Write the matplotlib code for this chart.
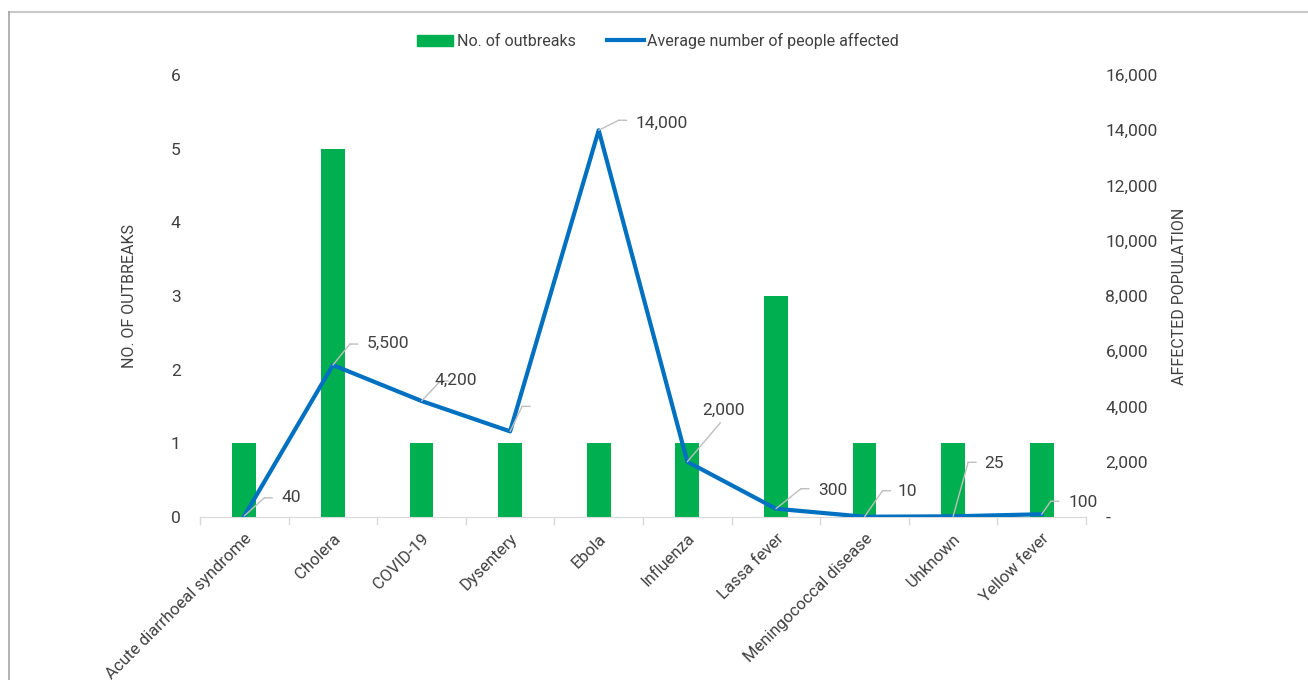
import matplotlib
matplotlib.use("Agg")
import matplotlib.pyplot as plt
from matplotlib.lines import Line2D
from matplotlib.patches import Patch
from matplotlib.transforms import offset_copy
import numpy as np

plt.rcParams['font.family'] = ['Roboto', 'DejaVu Sans']

categories = ["Acute diarrhoeal syndrome", "Cholera", "COVID-19", "Dysentery", "Ebola",
              "Influenza", "Lassa fever", "Meningococcal disease", "Unknown", "Yellow fever"]
outbreaks = [1, 5, 1, 1, 1, 1, 3, 1, 1, 1]
affected = [40, 5500, 4200, 3100, 14000, 2000, 300, 10, 25, 100]
point_labels = ["40", "5,500", "4,200", "", "14,000", "2,000", "300", "10", "25", "100"]
left_ticks = [0, 1, 2, 3, 4, 5, 6]
right_ticks = [0, 2000, 4000, 6000, 8000, 10000, 12000, 14000, 16000]

# leader styling (pixels): elbow dx, elbow dy, horizontal length, text dx, text dy
leader = [(20, 18, 8, 37, 18), (17, 21, 8, 34, 22), (19, 20, 8, 13, 21), (12, 25, 8, 30, 25),
          (20, 10, 8, 37, 7), (33, 39, 0, 15, 51), (25, 20, 8, 42, 18), (18, 26, 8, 33, 25),
          (15, 54, 8, 31, 53), (9, 13, 8, 27, 12)]

GREEN = "#00B050"
BLUE = "#0070C0"
GRID = "#d9d9d9"
LEAD = "#bfbfbf"
TXT = "#404040"

fig = plt.figure(figsize=(13.08, 6.8), dpi=100)
ax = fig.add_axes([0.1529, 0.2397, 0.6774, 0.65])
ax2 = ax.twinx()

x = np.arange(len(categories))
ax.bar(x, outbreaks, width=0.27, color=GREEN, zorder=2)
ax.set_ylim(0, 6)
ax.set_xlim(-0.5, len(categories) - 0.5)
ax.set_yticks(left_ticks)
ax.set_yticklabels([str(t) for t in left_ticks])
ax.set_xticks(x)
ax.set_xticklabels(categories, rotation=45, ha='right', rotation_mode='anchor')
ax.set_xticks(np.arange(-0.5, len(categories)), minor=True)
ax.tick_params(axis='x', which='major', length=0, pad=10, labelsize=12, colors=TXT)
ax.tick_params(axis='x', which='minor', length=6, color=GRID, width=1)
ax.tick_params(axis='y', length=0, pad=14, labelsize=12.5, colors=TXT)
for s in ['top', 'right', 'left']:
    ax.spines[s].set_visible(False)
ax.spines['bottom'].set_color(GRID)
ax.set_ylabel("NO. OF OUTBREAKS", fontsize=11.5, color=TXT, labelpad=24)

ax2.plot(x, affected, color=BLUE, lw=3, solid_joinstyle='round', zorder=3)
ax2.set_ylim(0, 16000)
ax2.set_yticks(right_ticks)
ax2.set_yticklabels(["-" if t == 0 else f"{t:,}" for t in right_ticks])
ax2.tick_params(axis='y', length=0, pad=14, labelsize=12.5, colors=TXT)
for s in ['top', 'right', 'left', 'bottom']:
    ax2.spines[s].set_visible(False)
ax2.set_ylabel("AFFECTED POPULATION", fontsize=11.5, color=TXT, labelpad=10)

for i, (v, lab) in enumerate(zip(affected, point_labels)):
    edx, edy, hl, tdx, tdy = leader[i]
    ax2.annotate("", xy=(i, v), xytext=(edx, edy), textcoords='offset pixels',
                 arrowprops=dict(arrowstyle='-', color=LEAD, lw=1, shrinkA=0, shrinkB=0),
                 annotation_clip=False)
    if hl:
        elbow_tr = offset_copy(ax2.transData, fig=fig, x=edx, y=edy, units='dots')
        ax2.annotate("", xy=(i, v), xycoords=elbow_tr, xytext=(hl, 0), textcoords='offset pixels',
                     arrowprops=dict(arrowstyle='-', color=LEAD, lw=1, shrinkA=0, shrinkB=0),
                     annotation_clip=False)
    if lab:
        ax2.annotate(lab, xy=(i, v), xytext=(tdx, tdy), textcoords='offset pixels',
                     ha='left', va='center', fontsize=12.5, color=TXT)

handles = [Patch(color=GREEN), Line2D([0], [0], color=BLUE, lw=3)]
fig.legend(handles, ["No. of outbreaks", "Average number of people affected"],
           loc='center', bbox_to_anchor=(0.503, 0.94), ncol=2, frameon=False,
           fontsize=11.5, handlelength=2.3, handletextpad=0.2, columnspacing=2.0,
           labelcolor=TXT)

# outer frame lines (top and left)
fig.add_artist(Line2D([9/1308, 1], [1 - 12/680, 1 - 12/680], color='#c8c8c8', lw=1.5,
                      transform=fig.transFigure))
fig.add_artist(Line2D([9/1308, 9/1308], [0, 1 - 12/680], color='#a6a6a6', lw=1.2,
                      transform=fig.transFigure))

fig.savefig("out.png", dpi=100, facecolor='white')
